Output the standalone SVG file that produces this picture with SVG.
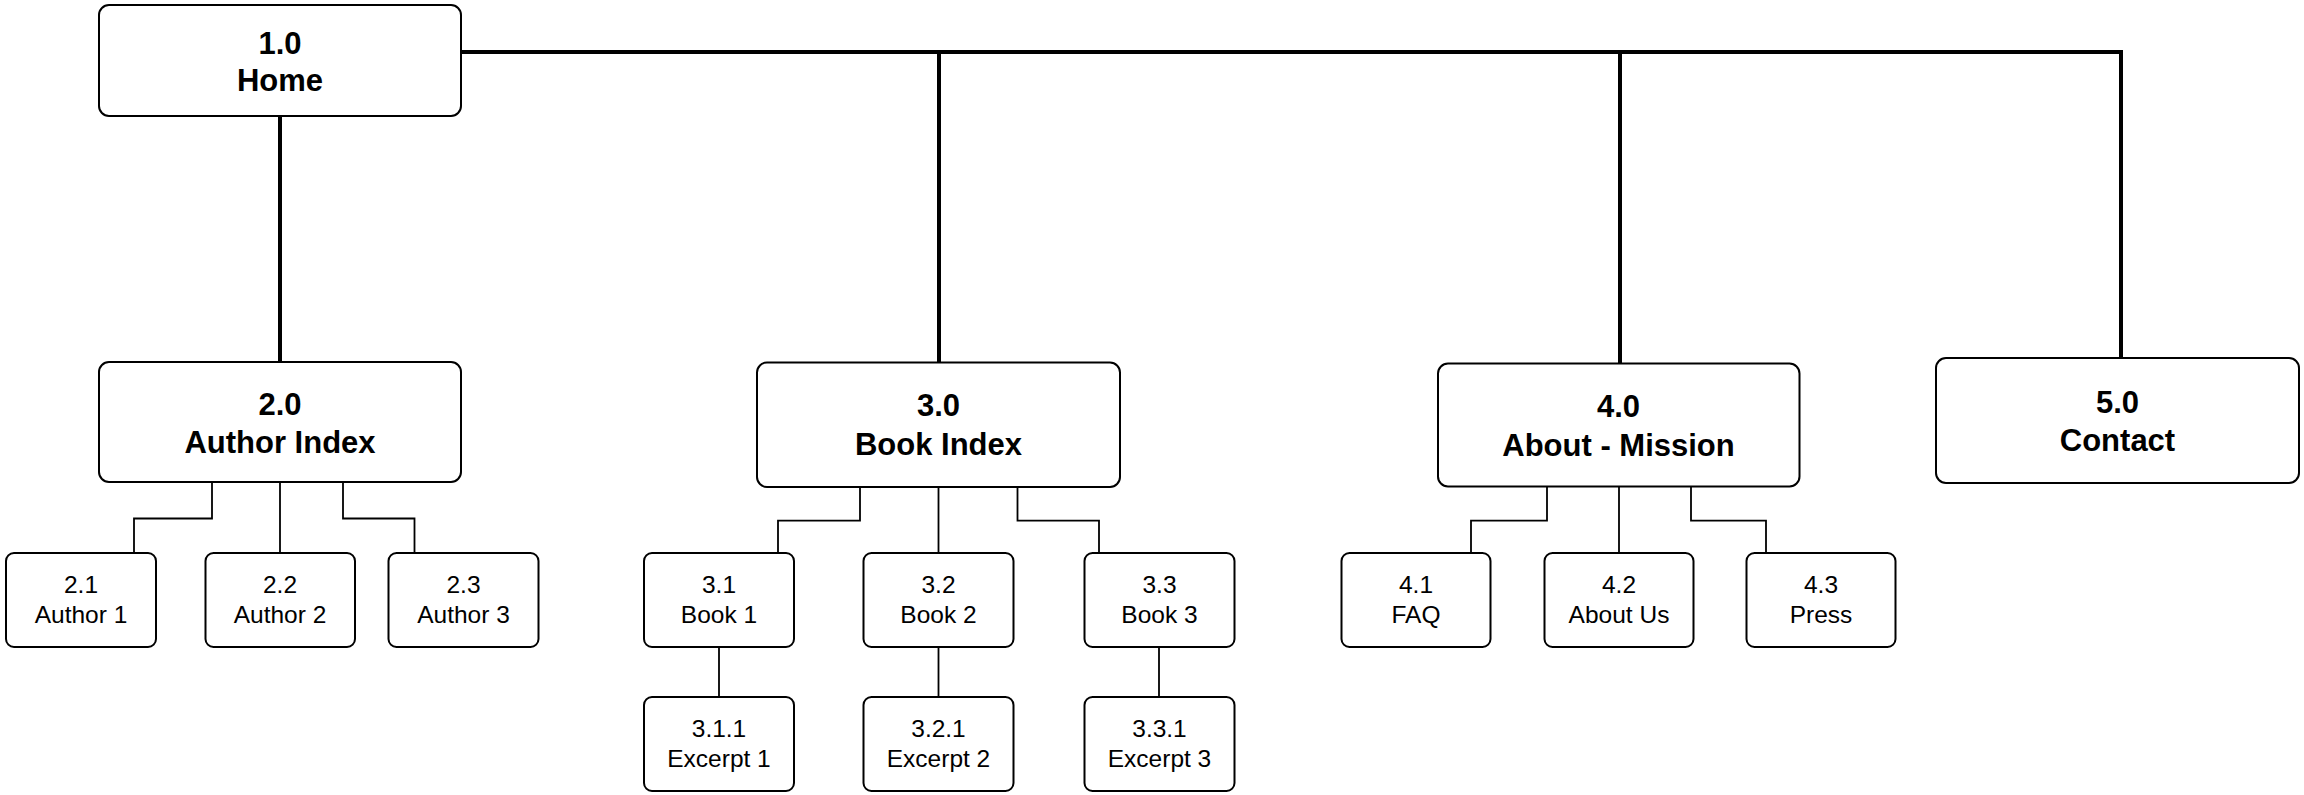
<svg xmlns="http://www.w3.org/2000/svg" width="2304" height="795" viewBox="0 0 2304 795">
<style>
.bg{fill:#ffffff}
.box{fill:#ffffff;stroke:#000000;stroke-width:2}
.thick{fill:none;stroke:#000000;stroke-width:4;stroke-linejoin:miter}
.thin{fill:none;stroke:#000000;stroke-width:1.8}
.tb{font-family:"Liberation Sans",Arial,Helvetica,sans-serif;font-weight:bold;font-size:31px;text-anchor:middle;fill:#000}
.tr{font-family:"Liberation Sans",Arial,Helvetica,sans-serif;font-size:24.5px;text-anchor:middle;fill:#000}
</style>
<rect class="bg" x="0" y="0" width="2304" height="795"/>
<g id="connectors">
<path class="thick" d="M461,52 H2121 V358"/>
<path class="thick" d="M939,52 V362.5"/>
<path class="thick" d="M1620,52 V363.5"/>
<path class="thick" d="M280,116 V362"/>
<path class="thin" d="M212,482 V518.5 H134 V553"/>
<path class="thin" d="M280,482 V553"/>
<path class="thin" d="M343,482 V518.5 H414.5 V553"/>
<path class="thin" d="M860,487 V520.7 H778 V553"/>
<path class="thin" d="M938.5,487 V553"/>
<path class="thin" d="M1017.5,487 V520.7 H1099 V553"/>
<path class="thin" d="M719,647 V697"/>
<path class="thin" d="M938.5,647 V697"/>
<path class="thin" d="M1159,647 V697"/>
<path class="thin" d="M1547,486.5 V520.7 H1471 V553"/>
<path class="thin" d="M1619,486.5 V553"/>
<path class="thin" d="M1691,486.5 V520.7 H1766 V553"/>
</g>
<g id="n1_0"><rect class="box" x="99" y="5" width="362" height="111" rx="10"/><text class="tb" x="280" y="54">1.0</text><text class="tb" x="280" y="91">Home</text></g>
<g id="n2_0"><rect class="box" x="99" y="362" width="362" height="120" rx="10"/><text class="tb" x="280" y="415">2.0</text><text class="tb" x="280" y="453">Author Index</text></g>
<g id="n3_0"><rect class="box" x="757" y="362.5" width="363" height="124.5" rx="10"/><text class="tb" x="938.5" y="416">3.0</text><text class="tb" x="938.5" y="454.5">Book Index</text></g>
<g id="n4_0"><rect class="box" x="1438" y="363.5" width="361.5" height="123" rx="10"/><text class="tb" x="1618.5" y="417.3">4.0</text><text class="tb" x="1618.5" y="455.5">About - Mission</text></g>
<g id="n5_0"><rect class="box" x="1936" y="358" width="363" height="125" rx="10"/><text class="tb" x="2117.5" y="413.3">5.0</text><text class="tb" x="2117.5" y="450.5">Contact</text></g>
<g id="n2_1"><rect class="box" x="6" y="553" width="150" height="94" rx="8"/><text class="tr" x="81" y="592.7">2.1</text><text class="tr" x="81" y="623">Author 1</text></g>
<g id="n2_2"><rect class="box" x="205.5" y="553" width="149.5" height="94" rx="8"/><text class="tr" x="280" y="592.7">2.2</text><text class="tr" x="280" y="623">Author 2</text></g>
<g id="n2_3"><rect class="box" x="388.5" y="553" width="150" height="94" rx="8"/><text class="tr" x="463.5" y="592.7">2.3</text><text class="tr" x="463.5" y="623">Author 3</text></g>
<g id="n3_1"><rect class="box" x="644" y="553" width="150" height="94" rx="8"/><text class="tr" x="719" y="592.7">3.1</text><text class="tr" x="719" y="623">Book 1</text></g>
<g id="n3_2"><rect class="box" x="863.5" y="553" width="150" height="94" rx="8"/><text class="tr" x="938.5" y="592.7">3.2</text><text class="tr" x="938.5" y="623">Book 2</text></g>
<g id="n3_3"><rect class="box" x="1084.5" y="553" width="150" height="94" rx="8"/><text class="tr" x="1159.5" y="592.7">3.3</text><text class="tr" x="1159.5" y="623">Book 3</text></g>
<g id="n3_1_1"><rect class="box" x="644" y="697" width="150" height="94" rx="8"/><text class="tr" x="719" y="736.7">3.1.1</text><text class="tr" x="719" y="766.5">Excerpt 1</text></g>
<g id="n3_2_1"><rect class="box" x="863.5" y="697" width="150" height="94" rx="8"/><text class="tr" x="938.5" y="736.7">3.2.1</text><text class="tr" x="938.5" y="766.5">Excerpt 2</text></g>
<g id="n3_3_1"><rect class="box" x="1084.5" y="697" width="150" height="94" rx="8"/><text class="tr" x="1159.5" y="736.7">3.3.1</text><text class="tr" x="1159.5" y="766.5">Excerpt 3</text></g>
<g id="n4_1"><rect class="box" x="1341.5" y="553" width="149" height="94" rx="8"/><text class="tr" x="1416" y="592.7">4.1</text><text class="tr" x="1416" y="623">FAQ</text></g>
<g id="n4_2"><rect class="box" x="1544.5" y="553" width="149" height="94" rx="8"/><text class="tr" x="1619" y="592.7">4.2</text><text class="tr" x="1619" y="623">About Us</text></g>
<g id="n4_3"><rect class="box" x="1746.5" y="553" width="149" height="94" rx="8"/><text class="tr" x="1821" y="592.7">4.3</text><text class="tr" x="1821" y="623">Press</text></g>
</svg>
